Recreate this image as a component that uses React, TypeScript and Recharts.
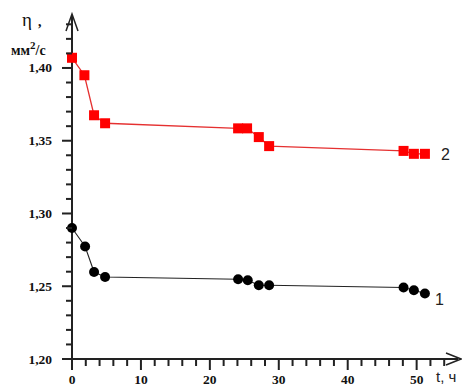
import { Line, LineChart, XAxis, YAxis } from "recharts";

// time, h
const tRed = [0, 1.8, 3.2, 4.8, 24.1, 25.4, 27.1, 28.6, 48.1, 49.6, 51.2];
const etaRed = [1.407, 1.395, 1.3675, 1.362, 1.3585, 1.3585, 1.3525, 1.3463, 1.343, 1.341, 1.341];

const tBlack = [0, 1.9, 3.2, 4.8, 24.1, 25.5, 27.1, 28.6, 48.1, 49.6, 51.2];
const etaBlack = [1.29, 1.2773, 1.2598, 1.2564, 1.2548, 1.2541, 1.2507, 1.2507, 1.2491, 1.2472, 1.245];

const xTicks = [0, 2, 4, 6, 8, 10, 12, 14, 16, 18, 20, 22, 24, 26, 28, 30, 32, 34, 36, 38, 40, 42, 44, 46, 48, 50, 52, 54];
const xLabels = [0, 10, 20, 30, 40, 50];
const yTicks = [1.2, 1.21, 1.22, 1.23, 1.24, 1.25, 1.26, 1.27, 1.28, 1.29, 1.3, 1.31, 1.32, 1.33, 1.34, 1.35, 1.36, 1.37, 1.38, 1.39, 1.4, 1.41, 1.42, 1.43];
const yLabels = [1.2, 1.25, 1.3, 1.35, 1.4];

const redData = tRed.map((t, i) => ({ t, eta: etaRed[i] }));
const blackData = tBlack.map((t, i) => ({ t, eta: etaBlack[i] }));

const axisColor = "#222";

// plot box (same numbers as the chart margins / axis sizes below)
const W = 462, H = 387;
const left = 72, top = 15, right = 4, bottom = 28;
const xMax = 56, yMin = 1.2, yMax = 1.4364;
const px = (t: number) => left + (t / xMax) * (W - left - right);
const py = (v: number) => H - bottom - ((v - yMin) / (yMax - yMin)) * (H - top - bottom);
const isMajorY = (v: number) => yLabels.some((m) => Math.abs(m - v) < 1e-6);

function YTick(props: any) {
    const { x, y, payload } = props;
    const v = Number(payload.value);
    if (!isMajorY(v)) return <g />;
    return (
        <text x={x - 20} y={y + 4.5} textAnchor="end" fontFamily="Liberation Serif" fontWeight={700} fontSize={13.5} fill="#111">
            {v.toFixed(2).replace(".", ",")}
        </text>
    );
}

function XTick(props: any) {
    const { x, y, payload } = props;
    const v = Number(payload.value);
    if (!xLabels.includes(v)) return <g />;
    return (
        <text x={x} y={y + 25} textAnchor="middle" fontFamily="Liberation Serif" fontWeight={700} fontSize={13.5} fill="#111">
            {String(v)}
        </text>
    );
}

function Square(props: any) {
    const { cx, cy, index } = props;
    return <rect key={"s" + index} x={cx - 5} y={cy - 5} width={10} height={10} fill="#ff0000" />;
}

function Dot(props: any) {
    const { cx, cy, index } = props;
    return <circle key={"c" + index} cx={cx} cy={cy} r={5} fill="#000" />;
}

function endLabel(text: string, dx: number, dy: number) {
    return (props: any) => {
        const { x, y, index } = props;
        if (index !== tRed.length - 1) return null;
        return (
            <text key={"l" + text} x={x + dx} y={y + dy} fontFamily="Liberation Sans" fontSize={16} fill="#222">
                {text}
            </text>
        );
    };
}

export default function App() {
    return (
        <div style={{ position: "fixed", left: 0, top: 0, width: W, height: H, background: "#fff" }}>
            <LineChart width={W} height={H} margin={{ top, right, bottom: 0, left: 0 }}>
                <XAxis
                    type="number"
                    dataKey="t"
                    domain={[0, xMax]}
                    ticks={xTicks}
                    interval={0}
                    height={bottom}
                    tickLine={false}
                    tickSize={0}
                    tickMargin={0}
                    tick={<XTick />}
                    axisLine={{ stroke: axisColor, strokeWidth: 2 }}
                />
                <YAxis
                    type="number"
                    domain={[yMin, yMax]}
                    ticks={yTicks}
                    interval={0}
                    width={left}
                    tickLine={false}
                    tickSize={0}
                    tickMargin={0}
                    tick={<YTick />}
                    axisLine={{ stroke: axisColor, strokeWidth: 2 }}
                    allowDataOverflow
                />
                <Line
                    data={redData}
                    dataKey="eta"
                    type="linear"
                    stroke="#e53030"
                    strokeWidth={1.3}
                    dot={Square}
                    activeDot={false}
                    label={endLabel("2", 16, 6)}
                    isAnimationActive={false}
                />
                <Line
                    data={blackData}
                    dataKey="eta"
                    type="linear"
                    stroke="#222"
                    strokeWidth={1.1}
                    dot={Dot}
                    activeDot={false}
                    label={endLabel("1", 10, 11)}
                    isAnimationActive={false}
                />
            </LineChart>
            <svg width={W} height={H} style={{ position: "absolute", left: 0, top: 0, pointerEvents: "none" }}>
                {yTicks.map((v) => (
                    <rect key={"yt" + v} x={left - (isMajorY(v) ? 10 : 6)} y={py(v) - 1} width={isMajorY(v) ? 10 : 6} height={2} fill={axisColor} />
                ))}
                {xTicks.map((t) => (
                    <rect key={"xt" + t} x={px(t) - 1} y={H - bottom} width={2} height={xLabels.includes(t) ? 11 : 7} fill={axisColor} />
                ))}
                <polyline points="66,31 72,14 78,31" fill="none" stroke={axisColor} strokeWidth={1.5} />
                <polyline points="446,353 461,359 446,365" fill="none" stroke={axisColor} strokeWidth={1.5} />
                <text x={22} y={26} fontFamily="Liberation Serif" fontSize={19} fill="#111">η</text>
                <text x={38} y={26} fontFamily="Liberation Serif" fontWeight={700} fontSize={14} fill="#111">,</text>
                <text x={11} y={55} fontFamily="Liberation Serif" fontWeight={700} fontSize={14} fill="#111">
                    мм<tspan dy={-6} fontSize={11}>2</tspan><tspan dy={6}>/с</tspan>
                </text>
                <text x={436} y={382} fontFamily="Liberation Sans" fontSize={15} fill="#222">t, ч</text>
            </svg>
        </div>
    );
}
